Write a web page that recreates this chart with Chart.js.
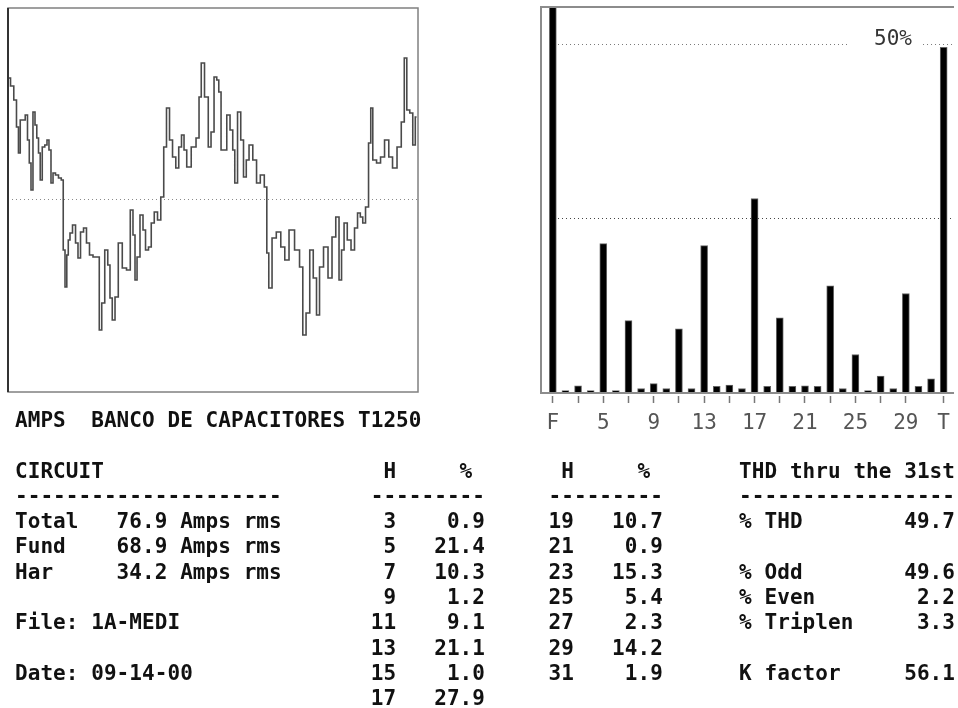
<!DOCTYPE html>
<html>
<head>
<meta charset="utf-8">
<title>AMPS BANCO DE CAPACITORES T1250</title>
<script src="https://cdn.jsdelivr.net/npm/chart.js@4.4.0/dist/chart.umd.min.js"></script>
<style>
  body { margin: 0; background: #fff; width: 958px; height: 708px; overflow: hidden; position: relative; }
  canvas { position: absolute; }
  #waveChart { left: 0; top: 0; }
  #harmChart { left: 530px; top: 0; }
  #report {
    position: absolute; left: 15px; top: 408px; margin: 0;
    font: bold 21px "DejaVu Sans Mono", monospace; line-height: 25.3px;
    letter-spacing: 0.06px; color: #111;
  }
</style>
</head>
<body>
<canvas id="waveChart" width="426" height="400"></canvas>
<canvas id="harmChart" width="428" height="440"></canvas>
<pre id="report"></pre>
<script>
//Waveform - time in ms, current in amps
const waveTimeMs = [
  0.08, 0.33, 0.61, 0.77, 0.93, 1.06, 1.30, 1.50, 1.67, 1.79,
  1.95, 2.11, 2.28, 2.40, 2.56, 2.68, 2.89, 3.09, 3.25, 3.41,
  3.58, 3.74, 3.98, 4.23, 4.43, 4.55, 4.72, 4.84, 4.96, 5.12,
  5.37, 5.61, 5.77, 6.02, 6.26, 6.50, 6.75, 7.07, 7.32, 7.52,
  7.72, 8.01, 8.21, 8.37, 8.58, 8.82, 9.11, 9.47, 9.80, 10.08,
  10.24, 10.41, 10.57, 10.89, 11.06, 11.30, 11.54, 11.75, 12.03, 12.28,
  12.56, 12.76, 13.01, 13.25, 13.50, 13.78, 13.98, 14.23, 14.39, 14.67,
  15.12, 15.45, 15.61, 15.81, 16.14, 16.42, 16.59, 16.91, 17.03, 17.24,
  17.40, 17.64, 17.93, 18.17, 18.37, 18.50, 18.82, 19.02, 19.27, 19.47,
  19.72, 20.08, 20.33, 20.69, 20.98, 21.10, 21.30, 21.63, 21.99, 22.36,
  22.64, 23.05, 23.54, 23.86, 24.07, 24.39, 24.67, 24.96, 25.20, 25.45,
  25.85, 26.18, 26.50, 26.79, 27.03, 27.20, 27.44, 27.72, 28.05, 28.29,
  28.54, 28.74, 28.94, 29.19, 29.43, 29.55, 29.76, 30.16, 30.41, 30.81,
  31.10, 31.42, 31.83, 32.11, 32.32, 32.52, 32.80, 33.01, 33.21
];
const waveAmps = [
  122, 114, 100, 73, 47, 80, 80, 85, 60, 37,
  10, 88, 75, 62, 47, 20, 53, 55, 60, 50,
  17, 27, 25, 22, 20, -50, -87, -55, -40, -33,
  -25, -43, -58, -32, -28, -43, -55, -57, -57, -130,
  -103, -50, -65, -98, -120, -97, -43, -68, -70, -10,
  -35, -80, -57, -15, -30, -50, -47, -23, -12, -20,
  3, 53, 92, 60, 43, 32, 53, 65, 50, 33,
  53, 62, 103, 137, 103, 53, 68, 123, 120, 108,
  50, 50, 85, 70, 50, 17, 88, 60, 23, 40,
  55, 40, 17, 25, 13, -53, -88, -38, -32, -47,
  -60, -30, -50, -67, -135, -113, -50, -78, -115, -67,
  -47, -78, -37, -17, -80, -50, -23, -40, -50, -28,
  -13, -17, -23, -7, 57, 92, 40, 37, 43, 60,
  43, 32, 53, 78, 142, 90, 87, 55, 83
];

//Harmonic spectrum - F = fundamental, T = total harmonic distortion
const harmOrders = [
  "F", "2", "3", "4", "5", "6", "7", "8", "9", "10", "11", "12", "13", "14", "15", "16",
  "17", "18", "19", "20", "21", "22", "23", "24", "25", "26", "27", "28", "29", "30", "31", "T"
];
const harmPercent = [
  100, 0.2, 0.9, 0.2, 21.4, 0.2, 10.3, 0.5, 1.2, 0.5, 9.1, 0.5, 21.1, 0.8, 1.0, 0.5,
  27.9, 0.8, 10.7, 0.8, 0.9, 0.8, 15.3, 0.5, 5.4, 0.2, 2.3, 0.5, 14.2, 0.8, 1.9, 49.7
];
const tickOrders = ["F", "3", "5", "7", "9", "11", "13", "15", "17", "19", "21", "23", "25", "27", "29", "T"];
const labelOrders = ["F", "5", "9", "13", "17", "21", "25", "29", "T"];
const gridPercents = [25, 50];

//Report text
const title = "AMPS  BANCO DE CAPACITORES T1250";
const circuitNames = ["Total", "Fund", "Har"];
const circuitAmps = ["76.9", "68.9", "34.2"];
const fileName = "1A-MEDI";
const dateText = "09-14-00";
const thdNames = ["% THD", "", "% Odd", "% Even", "% Triplen", "", "K factor"];
const thdValues = ["49.7", "", "49.6", "2.2", "3.3", "", "56.1"];

const monoFont = '"DejaVu Sans Mono", monospace';

//Dotted zero line + frame round the scope trace
const waveFrame = {
  id: "waveFrame",
  beforeDatasetsDraw(chart) {
    const { ctx, chartArea: a, scales: { y } } = chart;
    const y0 = Math.round(y.getPixelForValue(0)) - 0.5;
    ctx.save();
    ctx.strokeStyle = "#8a8a8a";
    ctx.lineWidth = 1;
    ctx.setLineDash([1, 3]);
    ctx.beginPath();
    ctx.moveTo(a.left, y0);
    ctx.lineTo(a.right, y0);
    ctx.stroke();
    ctx.restore();
  },
  afterDraw(chart) {
    const { ctx, chartArea: a } = chart;
    ctx.save();
    ctx.strokeStyle = "#808080";
    ctx.lineWidth = 1.5;
    ctx.strokeRect(a.left, a.top, a.width, a.height);
    ctx.strokeStyle = "#333";
    ctx.lineWidth = 2;
    ctx.beginPath();
    ctx.moveTo(a.left, a.top);
    ctx.lineTo(a.left, a.bottom);
    ctx.stroke();
    ctx.restore();
  },
};

//Dotted percent lines, 50% label and open frame of the spectrum
const harmFrame = {
  id: "harmFrame",
  beforeDatasetsDraw(chart) {
    const { ctx, chartArea: a, scales: { y } } = chart;
    const textRight = a.right - 42; //label sits just left of the T bar
    ctx.save();
    ctx.font = "21px " + monoFont;
    ctx.lineWidth = 1;
    ctx.setLineDash([1, 3]);
    gridPercents.forEach((p) => {
      const yp = Math.round(y.getPixelForValue(p)) - 0.5;
      ctx.strokeStyle = p === 50 ? "#7a7a7a" : "#444";
      ctx.beginPath();
      if (p === 50) {
        const w = ctx.measureText("50%").width;
        ctx.moveTo(a.left + 8, yp);
        ctx.lineTo(textRight - w - 27, yp);
        ctx.moveTo(textRight + 11, yp);
        ctx.lineTo(a.right, yp);
      } else {
        ctx.moveTo(a.left + 8, yp);
        ctx.lineTo(a.right, yp);
      }
      ctx.stroke();
    });
    ctx.setLineDash([]);
    ctx.fillStyle = "#333";
    ctx.textAlign = "right";
    ctx.textBaseline = "middle";
    ctx.fillText("50%", textRight, y.getPixelForValue(50) - 6);
    ctx.restore();
  },
  afterDraw(chart) {
    const { ctx, chartArea: a } = chart;
    ctx.save();
    ctx.strokeStyle = "#8c8c8c";
    ctx.lineWidth = 2;
    ctx.beginPath();
    ctx.moveTo(a.left - 1, a.bottom);
    ctx.lineTo(a.left - 1, a.top);
    ctx.lineTo(a.right, a.top);
    ctx.moveTo(a.left - 2, a.bottom + 1);
    ctx.lineTo(a.right, a.bottom + 1);
    ctx.stroke();
    ctx.restore();
  },
};

//Scope trace
new Chart(document.getElementById("waveChart"), {
  type: "line",
  data: {
    datasets: [
      {
        data: waveTimeMs.map((t, i) => ({ x: t, y: waveAmps[i] })),
        borderColor: "#4a4a4a",
        borderWidth: 1.6,
        pointRadius: 0,
        stepped: "middle",
        fill: false,
      },
    ],
  },
  options: {
    responsive: false,
    animation: false,
    events: [],
    layout: { padding: { left: 8, top: 8, right: 8, bottom: 8 } },
    plugins: { legend: { display: false }, tooltip: { enabled: false } },
    scales: {
      x: { type: "linear", display: false, min: 0, max: 33.33 },
      y: { display: false, min: -192, max: 192 },
    },
  },
  plugins: [waveFrame],
});

//Harmonic bars
new Chart(document.getElementById("harmChart"), {
  type: "bar",
  data: {
    datasets: [
      {
        data: harmPercent.map((v, i) => ({ x: i, y: v })),
        backgroundColor: "#000",
        borderColor: "#666",
        borderWidth: 1,
        barThickness: 7,
      },
    ],
  },
  options: {
    responsive: false,
    animation: false,
    events: [],
    layout: { padding: { left: 12, top: 7, right: 0, bottom: 0 } },
    plugins: { legend: { display: false }, tooltip: { enabled: false } },
    scales: {
      x: {
        type: "linear",
        min: -0.86,
        max: 31.82,
        offset: false,
        afterBuildTicks: (s) => {
          s.ticks = tickOrders.map((o) => ({ value: harmOrders.indexOf(o) }));
        },
        afterFit: (s) => {
          s.height = 48;
        },
        ticks: {
          autoSkip: false,
          maxRotation: 0,
          padding: 8,
          color: "#555",
          font: { family: monoFont, size: 21 },
          callback: (v) => (labelOrders.includes(harmOrders[v]) ? harmOrders[v] : ""),
        },
        grid: {
          offset: false,
          drawOnChartArea: false,
          drawTicks: true,
          tickLength: 11,
          tickColor: "#777",
          tickWidth: 1.5,
          tickBorderDash: [0, 4, 7, 40],
        },
        border: { display: false },
      },
      y: { display: false, min: 0, max: 55.5 },
    },
  },
  plugins: [harmFrame],
});

//Report table - fixed character grid like the instrument screen
function blankRow() {
  return Array(74).fill(" ");
}
function put(row, col, text) {
  for (let i = 0; i < text.length; i++) row[col + i] = text[i];
}
function putRight(row, endCol, text) {
  put(row, endCol - text.length + 1, text);
}

const lines = [title, ""];
const head = blankRow();
put(head, 0, "CIRCUIT");
put(head, 29, "H");
put(head, 35, "%");
put(head, 43, "H");
put(head, 49, "%");
put(head, 57, "THD thru the 31st");
lines.push(head.join(""));

const dashes = blankRow();
put(dashes, 0, "-".repeat(21));
put(dashes, 28, "-".repeat(9));
put(dashes, 42, "-".repeat(9));
put(dashes, 57, "-".repeat(17));
lines.push(dashes.join(""));

for (let r = 0; r < 8; r++) {
  const row = blankRow();
  if (r < 3) {
    put(row, 0, circuitNames[r]);
    putRight(row, 11, circuitAmps[r]);
    put(row, 13, "Amps rms");
  }
  if (r === 4) put(row, 0, "File: " + fileName);
  if (r === 6) put(row, 0, "Date: " + dateText);

  const h1 = 3 + 2 * r;
  putRight(row, 29, String(h1));
  putRight(row, 36, harmPercent[h1 - 1].toFixed(1));

  if (r < 7) {
    const h2 = 19 + 2 * r;
    putRight(row, 43, String(h2));
    putRight(row, 50, harmPercent[h2 - 1].toFixed(1));
    if (thdNames[r]) {
      put(row, 57, thdNames[r]);
      putRight(row, 73, thdValues[r]);
    }
  }
  lines.push(row.join("").replace(/\s+$/, ""));
}
document.getElementById("report").textContent = lines.join("\n");
</script>
</body>
</html>
